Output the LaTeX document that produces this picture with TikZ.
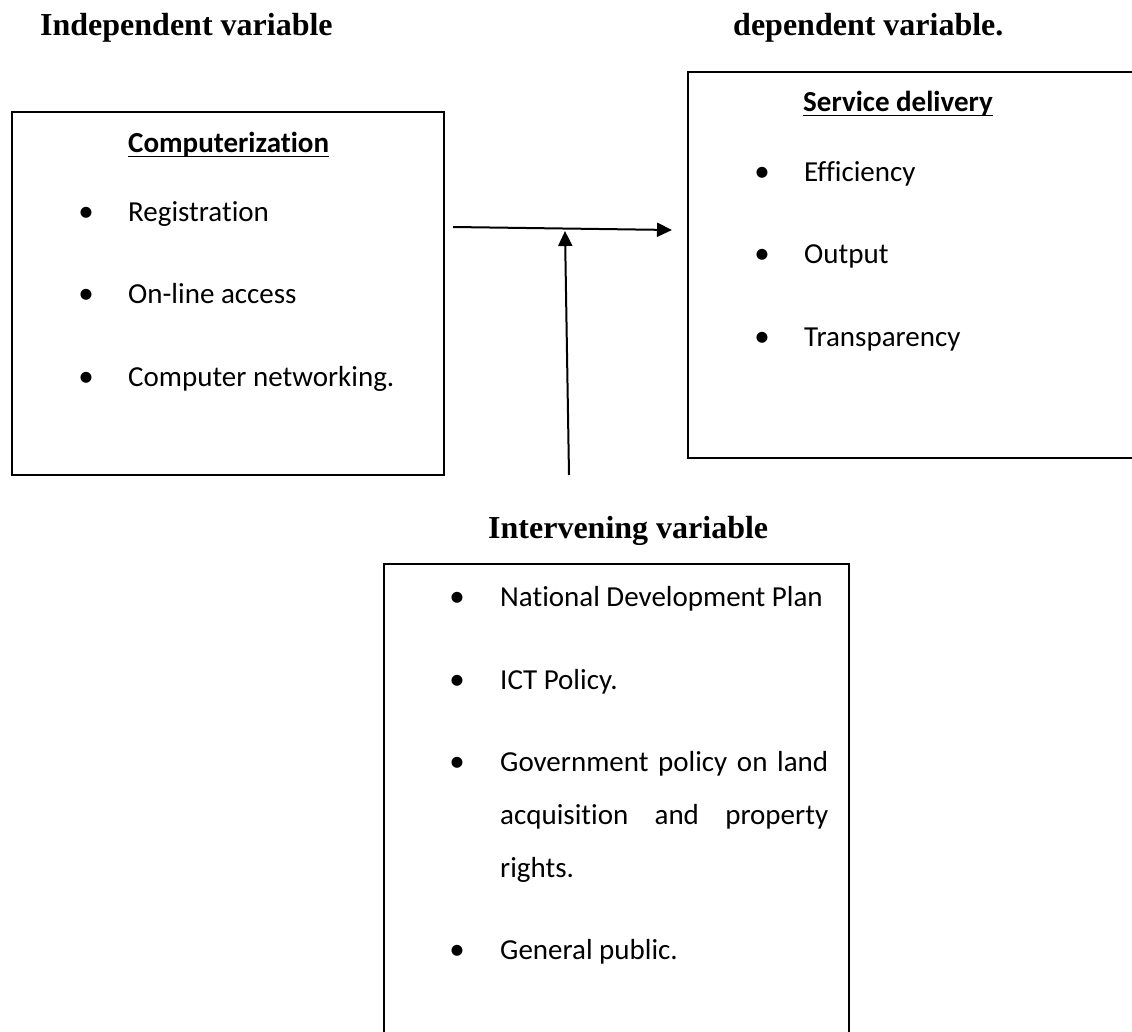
\documentclass[tikz,border=0pt]{standalone}
\usepackage{fontspec}
\setmainfont{Liberation Serif}
\newfontfamily\calibri[Ligatures={NoCommon}]{Carlito}
\usetikzlibrary{arrows.meta,calc}
\begin{document}
\begin{tikzpicture}[x=1pt,y=-1pt,
  box/.style={draw,line width=2pt,inner sep=0pt,anchor=north west},
  ttl/.style={inner sep=0pt,anchor=base west,font=\fontsize{32}{38}\selectfont\bfseries},
  item/.style={inner sep=0pt,anchor=base west,font=\calibri\fontsize{29}{35}\selectfont},
  head/.style={inner sep=0pt,anchor=base west,font=\calibri\fontsize{29}{35}\selectfont\bfseries},
  bul/.style={inner sep=0pt,anchor=base,font=\calibri\fontsize{31}{35}\selectfont},
  arr/.style={line width=2pt,-{Triangle[length=15pt,width=14pt]}}]
\useasboundingbox (0,0) rectangle (1132,1032);
\clip (0,0) rectangle (1132,1032);

% titles
\node[ttl] (tind) at (40,36) {Independent variable};
\node[ttl] (tdep) at (733,36) {dependent variable.};
\node[ttl] (tint) at (488,538) {Intervening variable};

% boxes
\node[box,minimum width=432pt,minimum height=363pt] (comp) at (11,111) {};
\node[box,minimum width=460pt,minimum height=386pt] (serv) at (687,71) {};
\node[box,minimum width=465pt,minimum height=490pt] (inter) at (383,563) {};

% left box contents
\node[head] (hc) at (128,153) {Computerization};
\draw[line width=1.6pt] ($(hc.base west)+(0,3.5)$) -- ($(hc.base east)+(0,3.5)$);
\node[bul] (b1) at (86,222) {•};
\node[item] (c1) at (128,222) {Registration};
\node[bul] (b2) at (86,304) {•};
\node[item] (c2) at (128,304) {On-line access};
\node[bul] (b3) at (86,386) {•};
\node[item] (c3) at (128,386) {Computer networking.};

% right box contents
\node[head] (hs) at (803,112) {Service delivery};
\draw[line width=1.6pt] ($(hs.base west)+(0,3.5)$) -- ($(hs.base east)+(0,3.5)$);
\node[bul] (b4) at (762,182) {•};
\node[item] (s1) at (804,182) {Efficiency};
\node[bul] (b5) at (762,264) {•};
\node[item] (s2) at (804,264) {Output};
\node[bul] (b6) at (762,346) {•};
\node[item] (s3) at (804,346) {Transparency};

% bottom box contents
\node[bul] (b7) at (457,606) {•};
\node[item] (i1) at (500,606) {National Development Plan};
\node[bul] (b8) at (457,689) {•};
\node[item] (i2) at (500,689) {ICT Policy.};
\node[bul] (b9) at (457,771) {•};
\node[item] (i3) at (500,771) {\makebox[328pt][s]{Government policy on land}};
\node[item] (i4) at (500,824) {\makebox[328pt][s]{acquisition and property}};
\node[item] (i5) at (500,877) {rights.};
\node[bul] (b10) at (457,959) {•};
\node[item] (i6) at (500,959) {General public.};

% arrows
\coordinate (h1) at (453,227);
\coordinate (h2) at (672,230);
\coordinate (v1) at (569,475);
\coordinate (v2) at (565,231);
\draw[arr] (h1) -- (h2);
\draw[arr] (v1) -- (v2);
\end{tikzpicture}
\end{document}
